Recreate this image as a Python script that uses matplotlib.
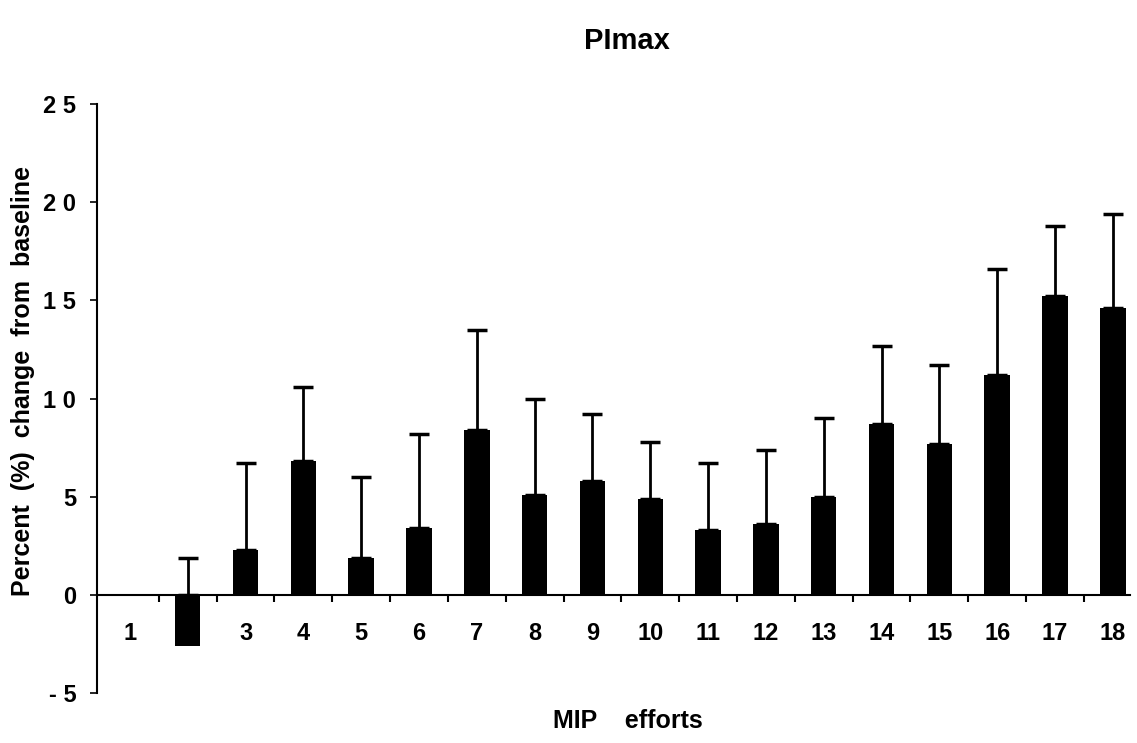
import matplotlib
matplotlib.use("Agg")
import matplotlib.pyplot as plt

plt.rcParams['font.family'] = ['Liberation Sans', 'DejaVu Sans']
plt.rcParams['font.weight'] = 'bold'

# MIP efforts 1..18, mean % change and top of the SD bar
efforts = list(range(1, 19))
means = [-0.05, -2.6, 2.3, 6.8, 1.9, 3.4, 8.4, 5.1, 5.8, 4.9, 3.3, 3.6, 5.0, 8.7, 7.7, 11.2, 15.2, 14.6]
upper = [-0.05, 1.9, 6.7, 10.6, 6.0, 8.2, 13.5, 10.0, 9.2, 7.8, 6.7, 7.4, 9.0, 12.7, 11.7, 16.6, 18.8, 19.4]
yticks = [-5, 0, 5, 10, 15, 20, 25]
ytick_labels = ['- 5', '0', '5', '1 0', '1 5', '2 0', '2 5']

err = [max(u - max(m, 0), 0) for m, u in zip(means, upper)]
err_base = [max(m, 0) for m in means]

fig = plt.figure(figsize=(11.37, 7.43), dpi=100)
ax = fig.add_axes([0.0853, 0.0673, 0.9087, 0.7927])

# error bars (upper only), starting at the bar top (zero for negative bars)
for x, b, e in zip(efforts, err_base, err):
    if e > 0:
        ax.errorbar(x, b, yerr=[[0], [e]], fmt='none', ecolor='black',
                    elinewidth=2, capsize=7, capthick=2.5, zorder=4)

ax.bar(efforts, means, width=0.44, color='black', zorder=5)

# category labels sit under the zero line; bar 2 hides its own label
for x in efforts:
    ax.text(x, -1.95, str(x), ha='center', va='center', fontsize=17,
            fontweight='bold', zorder=3)

ax.set_xlim(0.43, 18.3)
ax.set_ylim(-5, 25)
ax.set_yticks(yticks)
ax.set_yticklabels(ytick_labels, fontsize=17, fontweight='bold')
ax.set_xticks([x + 0.5 for x in efforts[:-1]])
ax.set_xticklabels([])
ax.tick_params(axis='x', direction='out', length=5, width=1.5)
ax.tick_params(axis='y', direction='out', length=5, width=1.2, pad=10)

ax.spines['top'].set_visible(False)
ax.spines['right'].set_visible(False)
ax.spines['bottom'].set_position(('data', 0))
ax.spines['left'].set_linewidth(1.5)
ax.spines['bottom'].set_linewidth(1.5)

ax.set_ylabel('Percent  (%)  change  from  baseline', fontsize=18,
              fontweight='bold')
ax.yaxis.set_label_coords(-0.06, 0.53)
fig.text(0.552, 0.03, 'MIP    efforts', ha='center', va='center',
         fontsize=18, fontweight='bold')
fig.text(0.551, 0.945, 'PImax', ha='center', va='center',
         fontsize=21, fontweight='bold')

fig.savefig('out.png', dpi=100)
